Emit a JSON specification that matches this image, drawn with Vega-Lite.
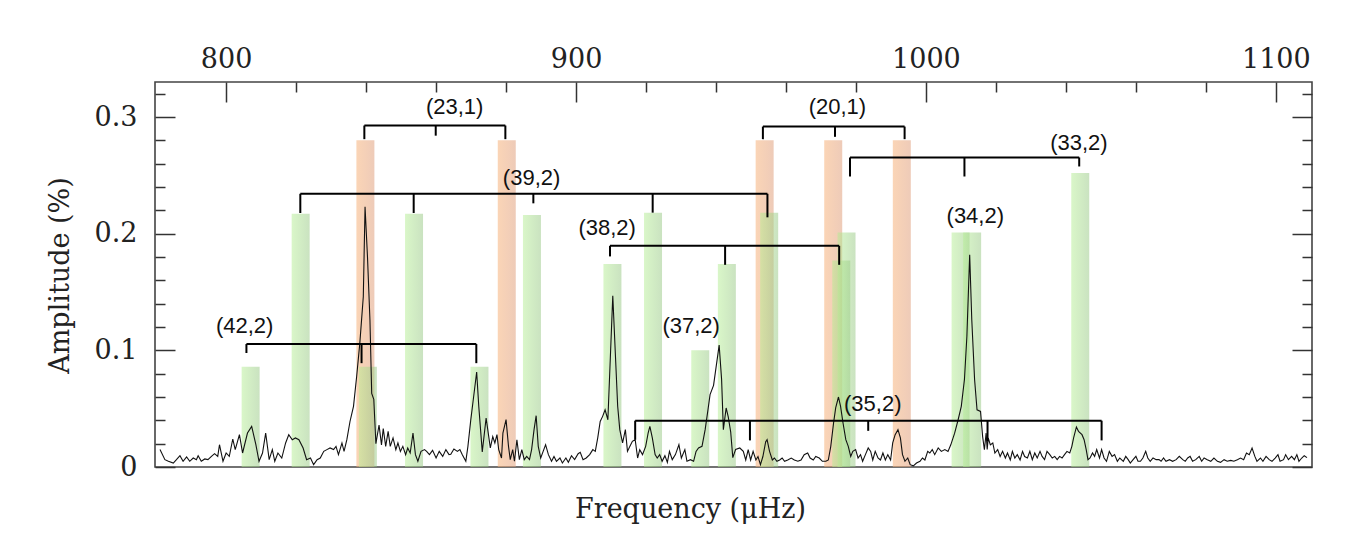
{
  "$schema": "https://vega.github.io/schema/vega-lite/v6.json",
  "width": 1157,
  "height": 385,
  "autosize": {"type": "none"},
  "padding": {"left": 155, "top": 82, "right": 53, "bottom": 76},
  "background": "white",
  "config": {"view": {"stroke": "#444444", "strokeWidth": 1.6}},
  "datasets": {
    "l1": [
      {"f": 839.8, "a": 0.28}, {"f": 880.2, "a": 0.28}, {"f": 953.9, "a": 0.28}, {"f": 973.5, "a": 0.28}, {"f": 993.1, "a": 0.28}
    ],
    "l2": [
      {"f": 807.0, "a": 0.086}, {"f": 821.3, "a": 0.217}, {"f": 840.5, "a": 0.086}, {"f": 853.7, "a": 0.217},
      {"f": 872.4, "a": 0.086}, {"f": 887.4, "a": 0.216}, {"f": 910.4, "a": 0.174}, {"f": 922.0, "a": 0.218},
      {"f": 935.5, "a": 0.1}, {"f": 943.1, "a": 0.174}, {"f": 955.2, "a": 0.218}, {"f": 975.8, "a": 0.177},
      {"f": 977.3, "a": 0.201}, {"f": 1009.9, "a": 0.201}, {"f": 1013.2, "a": 0.201}, {"f": 1044.1, "a": 0.252}
    ],
    "spec": [
      {"f":781.1,"a":0.015},{"f":782.5,"a":0.0063},{"f":783.5,"a":0.0049},{"f":784.9,"a":0.0034},{"f":785.8,"a":0.0063},
      {"f":786.8,"a":0.0097},{"f":787.7,"a":0.0049},{"f":788.7,"a":0.0086},{"f":789.6,"a":0.0049},{"f":790.6,"a":0.0077},
      {"f":791.5,"a":0.0063},{"f":792.0,"a":0.0097},{"f":792.9,"a":0.0049},{"f":793.9,"a":0.0069},{"f":794.8,"a":0.0063},
      {"f":795.8,"a":0.0091},{"f":796.7,"a":0.0114},{"f":797.6,"a":0.0091},{"f":798.1,"a":0.0191},{"f":799.1,"a":0.0049},
      {"f":800.0,"a":0.012},{"f":800.9,"a":0.0091},{"f":801.9,"a":0.024},{"f":802.6,"a":0.0149},{"f":803.8,"a":0.0277},
      {"f":804.7,"a":0.012},{"f":806.1,"a":0.0291},{"f":807.3,"a":0.0348},{"f":808.5,"a":0.0191},{"f":809.4,"a":0.0049},
      {"f":810.4,"a":0.012},{"f":811.3,"a":0.0291},{"f":812.3,"a":0.0063},{"f":813.2,"a":0.0149},{"f":813.9,"a":0.0049},
      {"f":814.8,"a":0.012},{"f":815.9,"a":0.0077},{"f":817.0,"a":0.0206},{"f":817.9,"a":0.0277},{"f":818.9,"a":0.0234},
      {"f":819.8,"a":0.0249},{"f":820.8,"a":0.0234},{"f":822.0,"a":0.0163},{"f":823.0,"a":0.0063},{"f":824.1,"a":0.0077},
      {"f":825.0,"a":0.002},{"f":826.0,"a":0.0063},{"f":826.9,"a":0.0077},{"f":827.9,"a":0.0134},{"f":828.8,"a":0.0149},
      {"f":829.7,"a":0.0163},{"f":830.7,"a":0.0149},{"f":831.4,"a":0.0177},{"f":832.1,"a":0.0106},{"f":833.1,"a":0.0206},
      {"f":833.7,"a":0.0134},{"f":834.5,"a":0.0234},{"f":835.4,"a":0.039},{"f":836.4,"a":0.052},{"f":837.3,"a":0.0776},
      {"f":838.2,"a":0.106},{"f":839.2,"a":0.146},{"f":839.7,"a":0.223},{"f":840.4,"a":0.18},{"f":841.1,"a":0.126},
      {"f":841.6,"a":0.063},{"f":842.2,"a":0.058},{"f":842.8,"a":0.02},{"f":843.7,"a":0.036},{"f":844.4,"a":0.019},
      {"f":844.9,"a":0.033},{"f":845.6,"a":0.0177},{"f":846.3,"a":0.0306},{"f":846.9,"a":0.0177},{"f":847.7,"a":0.0249},
      {"f":848.5,"a":0.0149},{"f":849.1,"a":0.0206},{"f":849.8,"a":0.0134},{"f":850.5,"a":0.0177},{"f":851.3,"a":0.0106},
      {"f":851.9,"a":0.0163},{"f":852.6,"a":0.012},{"f":853.4,"a":0.029},{"f":854.1,"a":0.0106},{"f":854.8,"a":0.0049},
      {"f":855.7,"a":0.0134},{"f":856.7,"a":0.0149},{"f":857.3,"a":0.0134},{"f":858.1,"a":0.0106},{"f":859.0,"a":0.0143},
      {"f":860.0,"a":0.0077},{"f":860.9,"a":0.0134},{"f":861.9,"a":0.0091},{"f":862.8,"a":0.0149},{"f":863.7,"a":0.0106},
      {"f":864.2,"a":0.011},{"f":865.1,"a":0.0154},{"f":866.1,"a":0.0134},{"f":866.8,"a":0.0149},{"f":867.5,"a":0.0106},
      {"f":868.5,"a":0.0049},{"f":869.1,"a":0.0177},{"f":869.9,"a":0.04},{"f":870.6,"a":0.057},{"f":871.6,"a":0.0814},
      {"f":872.2,"a":0.052},{"f":873.2,"a":0.013},{"f":874.3,"a":0.042},{"f":875.1,"a":0.0249},{"f":875.5,"a":0.0163},
      {"f":876.2,"a":0.026},{"f":876.8,"a":0.0206},{"f":877.4,"a":0.0277},{"f":877.9,"a":0.0149},{"f":878.7,"a":0.0077},
      {"f":879.1,"a":0.029},{"f":880.0,"a":0.0406},{"f":880.7,"a":0.0177},{"f":881.2,"a":0.0063},{"f":881.9,"a":0.0149},
      {"f":882.4,"a":0.0049},{"f":883.1,"a":0.0234},{"f":883.8,"a":0.0063},{"f":884.5,"a":0.0149},{"f":885.2,"a":0.0063},
      {"f":885.9,"a":0.0091},{"f":886.7,"a":0.0063},{"f":887.3,"a":0.0149},{"f":888.0,"a":0.032},{"f":888.6,"a":0.044},
      {"f":889.2,"a":0.0177},{"f":889.9,"a":0.0077},{"f":890.6,"a":0.0134},{"f":891.3,"a":0.0191},{"f":892.1,"a":0.0106},
      {"f":893.0,"a":0.0049},{"f":893.7,"a":0.0091},{"f":894.4,"a":0.0049},{"f":895.4,"a":0.0077},{"f":896.1,"a":0.0034},
      {"f":897.1,"a":0.0077},{"f":897.8,"a":0.004},{"f":898.7,"a":0.0097},{"f":899.6,"a":0.0063},{"f":900.6,"a":0.0114},
      {"f":901.2,"a":0.0126},{"f":902.0,"a":0.0063},{"f":902.9,"a":0.0077},{"f":903.9,"a":0.0106},{"f":904.8,"a":0.0149},
      {"f":905.5,"a":0.0134},{"f":906.2,"a":0.0249},{"f":906.9,"a":0.039},{"f":907.6,"a":0.0434},{"f":908.3,"a":0.049},
      {"f":909.1,"a":0.0405},{"f":910.5,"a":0.1468},{"f":911.9,"a":0.052},{"f":912.5,"a":0.032},{"f":913.3,"a":0.0206},
      {"f":914.1,"a":0.032},{"f":914.7,"a":0.0134},{"f":915.4,"a":0.0177},{"f":916.1,"a":0.022},{"f":916.9,"a":0.0234},
      {"f":917.6,"a":0.0077},{"f":918.2,"a":0.0149},{"f":919.0,"a":0.0106},{"f":919.9,"a":0.0177},{"f":920.6,"a":0.029},
      {"f":921.1,"a":0.0348},{"f":921.8,"a":0.0249},{"f":922.6,"a":0.0106},{"f":923.2,"a":0.0077},{"f":923.9,"a":0.0106},
      {"f":924.6,"a":0.0049},{"f":925.4,"a":0.0097},{"f":926.1,"a":0.004},{"f":926.7,"a":0.0134},{"f":927.5,"a":0.0063},
      {"f":928.4,"a":0.0106},{"f":929.4,"a":0.0191},{"f":930.1,"a":0.0077},{"f":931.1,"a":0.0149},{"f":931.7,"a":0.0049},
      {"f":932.7,"a":0.0063},{"f":933.6,"a":0.0049},{"f":934.3,"a":0.0134},{"f":935.0,"a":0.0163},{"f":936.0,"a":0.0177},
      {"f":936.9,"a":0.032},{"f":937.7,"a":0.049},{"f":938.3,"a":0.062},{"f":939.3,"a":0.07},{"f":940.9,"a":0.1045},
      {"f":941.6,"a":0.075},{"f":942.1,"a":0.032},{"f":942.9,"a":0.0506},{"f":943.5,"a":0.043},{"f":944.2,"a":0.03},
      {"f":944.8,"a":0.008},{"f":945.6,"a":0.015},{"f":946.8,"a":0.0163},{"f":947.8,"a":0.0134},{"f":948.5,"a":0.006},
      {"f":949.2,"a":0.0149},{"f":949.9,"a":0.006},{"f":950.6,"a":0.0134},{"f":951.4,"a":0.006},{"f":952.0,"a":0.009},
      {"f":952.7,"a":0.002},{"f":953.4,"a":0.009},{"f":954.2,"a":0.0217},{"f":954.6,"a":0.0234},{"f":955.3,"a":0.0134},
      {"f":956.1,"a":0.006},{"f":956.7,"a":0.0077},{"f":957.4,"a":0.0049},{"f":958.2,"a":0.006},{"f":958.9,"a":0.0077},
      {"f":959.6,"a":0.0049},{"f":960.5,"a":0.006},{"f":961.5,"a":0.0077},{"f":962.4,"a":0.006},{"f":963.4,"a":0.0049},
      {"f":964.3,"a":0.006},{"f":965.2,"a":0.0106},{"f":966.2,"a":0.012},{"f":966.9,"a":0.0077},{"f":967.8,"a":0.006},
      {"f":968.5,"a":0.009},{"f":969.5,"a":0.0077},{"f":970.4,"a":0.0049},{"f":971.4,"a":0.0049},{"f":972.1,"a":0.006},
      {"f":972.8,"a":0.0177},{"f":973.6,"a":0.0377},{"f":974.2,"a":0.0506},{"f":975.0,"a":0.06},{"f":975.6,"a":0.052},
      {"f":976.3,"a":0.0377},{"f":977.1,"a":0.0234},{"f":977.8,"a":0.0177},{"f":978.5,"a":0.009},{"f":979.1,"a":0.0134},
      {"f":979.9,"a":0.0149},{"f":980.6,"a":0.0077},{"f":981.3,"a":0.0106},{"f":981.9,"a":0.0049},{"f":982.7,"a":0.0106},
      {"f":983.5,"a":0.0163},{"f":984.2,"a":0.0134},{"f":984.8,"a":0.006},{"f":985.5,"a":0.0134},{"f":986.3,"a":0.0077},
      {"f":987.0,"a":0.006},{"f":987.7,"a":0.012},{"f":988.4,"a":0.006},{"f":989.1,"a":0.0106},{"f":989.9,"a":0.006},
      {"f":990.5,"a":0.0206},{"f":991.2,"a":0.0277},{"f":992.0,"a":0.032},{"f":992.7,"a":0.0249},{"f":993.3,"a":0.0106},
      {"f":994.0,"a":0.0049},{"f":994.8,"a":0.0077},{"f":995.5,"a":0.002},{"f":996.4,"a":0.001},{"f":997.3,"a":0.0034},
      {"f":998.3,"a":0.0049},{"f":999.0,"a":0.0077},{"f":999.7,"a":0.006},{"f":1000.5,"a":0.0134},{"f":1001.1,"a":0.012},
      {"f":1001.8,"a":0.0149},{"f":1002.5,"a":0.0106},{"f":1003.5,"a":0.0163},{"f":1004.4,"a":0.0134},{"f":1005.4,"a":0.0149},
      {"f":1006.3,"a":0.0134},{"f":1007.1,"a":0.019},{"f":1008.2,"a":0.029},{"f":1009.2,"a":0.0405},{"f":1010.1,"a":0.052},
      {"f":1011.0,"a":0.075},{"f":1011.7,"a":0.112},{"f":1012.5,"a":0.182},{"f":1013.1,"a":0.126},{"f":1013.9,"a":0.075},
      {"f":1014.6,"a":0.049},{"f":1015.6,"a":0.0476},{"f":1016.2,"a":0.026},{"f":1016.7,"a":0.0148},{"f":1017.2,"a":0.029},
      {"f":1017.5,"a":0.015},{"f":1017.8,"a":0.0249},{"f":1018.4,"a":0.019},{"f":1019.1,"a":0.0206},{"f":1019.7,"a":0.012},
      {"f":1020.5,"a":0.0149},{"f":1021.2,"a":0.009},{"f":1021.9,"a":0.0134},{"f":1022.7,"a":0.0077},{"f":1023.3,"a":0.012},
      {"f":1024.1,"a":0.006},{"f":1024.7,"a":0.0134},{"f":1025.4,"a":0.0077},{"f":1026.1,"a":0.0106},{"f":1026.9,"a":0.006},
      {"f":1027.6,"a":0.0134},{"f":1028.2,"a":0.009},{"f":1029.0,"a":0.0077},{"f":1029.7,"a":0.0134},{"f":1030.4,"a":0.0063},
      {"f":1031.1,"a":0.012},{"f":1031.8,"a":0.0077},{"f":1032.6,"a":0.0134},{"f":1033.2,"a":0.0091},{"f":1033.9,"a":0.0063},
      {"f":1034.6,"a":0.0134},{"f":1035.4,"a":0.0106},{"f":1036.1,"a":0.0077},{"f":1036.8,"a":0.0091},{"f":1037.5,"a":0.0063},
      {"f":1038.2,"a":0.0091},{"f":1038.9,"a":0.0077},{"f":1039.6,"a":0.0106},{"f":1040.3,"a":0.0134},{"f":1041.1,"a":0.012},
      {"f":1041.7,"a":0.0177},{"f":1042.2,"a":0.0249},{"f":1043.0,"a":0.0343},{"f":1043.6,"a":0.0306},{"f":1044.6,"a":0.0277},
      {"f":1045.2,"a":0.0234},{"f":1045.8,"a":0.0149},{"f":1046.3,"a":0.0063},{"f":1046.9,"a":0.0077},{"f":1047.6,"a":0.012},
      {"f":1048.2,"a":0.0091},{"f":1048.8,"a":0.0149},{"f":1049.6,"a":0.0077},{"f":1050.2,"a":0.0149},{"f":1050.9,"a":0.0077},
      {"f":1051.6,"a":0.0049},{"f":1052.4,"a":0.0134},{"f":1053.2,"a":0.0091},{"f":1053.9,"a":0.0106},{"f":1054.7,"a":0.0049},
      {"f":1055.4,"a":0.0077},{"f":1056.4,"a":0.0049},{"f":1057.1,"a":0.0091},{"f":1057.8,"a":0.0063},{"f":1058.4,"a":0.0034},
      {"f":1059.2,"a":0.0063},{"f":1060.0,"a":0.0091},{"f":1060.6,"a":0.0049},{"f":1061.3,"a":0.0049},{"f":1062.0,"a":0.0077},
      {"f":1062.8,"a":0.0134},{"f":1063.4,"a":0.0077},{"f":1064.1,"a":0.0049},{"f":1064.9,"a":0.0077},{"f":1065.8,"a":0.0063},
      {"f":1066.6,"a":0.0063},{"f":1067.2,"a":0.0049},{"f":1067.9,"a":0.0077},{"f":1068.6,"a":0.0049},{"f":1069.6,"a":0.0063},
      {"f":1070.5,"a":0.0049},{"f":1071.5,"a":0.0063},{"f":1072.4,"a":0.0091},{"f":1073.4,"a":0.0063},{"f":1074.1,"a":0.0049},
      {"f":1074.8,"a":0.0077},{"f":1075.5,"a":0.0091},{"f":1076.2,"a":0.0049},{"f":1077.1,"a":0.0063},{"f":1078.1,"a":0.0091},
      {"f":1078.8,"a":0.0049},{"f":1079.5,"a":0.0077},{"f":1080.4,"a":0.0063},{"f":1081.4,"a":0.0049},{"f":1082.3,"a":0.0077},
      {"f":1083.3,"a":0.0049},{"f":1084.2,"a":0.004},{"f":1085.2,"a":0.0063},{"f":1086.1,"a":0.0049},{"f":1087.1,"a":0.0057},
      {"f":1088.0,"a":0.0049},{"f":1089.0,"a":0.0063},{"f":1089.9,"a":0.0077},{"f":1090.8,"a":0.0063},{"f":1091.6,"a":0.012},
      {"f":1092.4,"a":0.0106},{"f":1093.2,"a":0.0163},{"f":1094.0,"a":0.0091},{"f":1094.6,"a":0.0049},{"f":1095.6,"a":0.0077},
      {"f":1096.3,"a":0.0049},{"f":1097.2,"a":0.0091},{"f":1098.1,"a":0.0063},{"f":1098.9,"a":0.0049},{"f":1099.8,"a":0.0077},
      {"f":1100.6,"a":0.0106},{"f":1101.2,"a":0.0049},{"f":1102.2,"a":0.0063},{"f":1102.8,"a":0.0106},{"f":1103.6,"a":0.0063},
      {"f":1104.5,"a":0.0091},{"f":1105.3,"a":0.0063},{"f":1106.0,"a":0.0106},{"f":1106.6,"a":0.0049},{"f":1107.4,"a":0.0077},
      {"f":1108.1,"a":0.0097},{"f":1108.9,"a":0.008}
    ],
    "brackets": [
      {"x1": 839.5, "x2": 879.8, "y1": 0.2927, "y2": 0.2927},
      {"x1": 839.5, "x2": 839.5, "y1": 0.2927, "y2": 0.281},
      {"x1": 879.8, "x2": 879.8, "y1": 0.2927, "y2": 0.281},
      {"x1": 859.9, "x2": 859.9, "y1": 0.2927, "y2": 0.284},
      {"x1": 953.4, "x2": 993.9, "y1": 0.2918, "y2": 0.2918},
      {"x1": 953.4, "x2": 953.4, "y1": 0.2918, "y2": 0.281},
      {"x1": 993.9, "x2": 993.9, "y1": 0.2918, "y2": 0.281},
      {"x1": 974.0, "x2": 974.0, "y1": 0.2918, "y2": 0.283},
      {"x1": 978.3, "x2": 1043.8, "y1": 0.2653, "y2": 0.2653},
      {"x1": 978.3, "x2": 978.3, "y1": 0.2653, "y2": 0.249},
      {"x1": 1011.0, "x2": 1011.0, "y1": 0.2653, "y2": 0.249},
      {"x1": 1043.8, "x2": 1043.8, "y1": 0.2653, "y2": 0.2576},
      {"x1": 821.2, "x2": 954.7, "y1": 0.2342, "y2": 0.2342},
      {"x1": 821.2, "x2": 821.2, "y1": 0.2342, "y2": 0.2177},
      {"x1": 853.6, "x2": 853.6, "y1": 0.2342, "y2": 0.2177},
      {"x1": 887.8, "x2": 887.8, "y1": 0.2342, "y2": 0.226},
      {"x1": 921.9, "x2": 921.9, "y1": 0.2342, "y2": 0.218},
      {"x1": 954.7, "x2": 954.7, "y1": 0.2342, "y2": 0.214},
      {"x1": 909.7, "x2": 975.2, "y1": 0.1896, "y2": 0.1896},
      {"x1": 909.7, "x2": 909.7, "y1": 0.1896, "y2": 0.1805},
      {"x1": 942.6, "x2": 942.6, "y1": 0.1896, "y2": 0.1733},
      {"x1": 975.2, "x2": 975.2, "y1": 0.1896, "y2": 0.1733},
      {"x1": 805.8, "x2": 871.5, "y1": 0.1054, "y2": 0.1054},
      {"x1": 805.8, "x2": 805.8, "y1": 0.1054, "y2": 0.0977},
      {"x1": 838.7, "x2": 838.7, "y1": 0.1054, "y2": 0.089},
      {"x1": 871.5, "x2": 871.5, "y1": 0.1054, "y2": 0.089},
      {"x1": 916.9, "x2": 1050.2, "y1": 0.0397, "y2": 0.0397},
      {"x1": 916.9, "x2": 916.9, "y1": 0.0397, "y2": 0.0234},
      {"x1": 949.7, "x2": 949.7, "y1": 0.0397, "y2": 0.0228},
      {"x1": 983.5, "x2": 983.5, "y1": 0.0397, "y2": 0.031},
      {"x1": 1017.6, "x2": 1017.6, "y1": 0.0397, "y2": 0.022},
      {"x1": 1050.2, "x2": 1050.2, "y1": 0.0397, "y2": 0.0228}
    ],
    "labels": [
      {"f": 865.3, "a": 0.309, "t": "(23,1)"},
      {"f": 974.7, "a": 0.309, "t": "(20,1)"},
      {"f": 887.3, "a": 0.2477, "t": "(39,2)"},
      {"f": 908.9, "a": 0.205, "t": "(38,2)"},
      {"f": 1043.7, "a": 0.2776, "t": "(33,2)"},
      {"f": 1014.1, "a": 0.2148, "t": "(34,2)"},
      {"f": 805.3, "a": 0.121, "t": "(42,2)"},
      {"f": 932.9, "a": 0.1205, "t": "(37,2)"},
      {"f": 984.8, "a": 0.054, "t": "(35,2)"}
    ]
  },
  "layer": [
    {
      "data": {"name": "l1"},
      "mark": {
        "type": "bar", "size": 18, "fillOpacity": 0.55,
        "fill": {"gradient": "linear", "x1": 0, "x2": 1, "y1": 0, "y2": 0,
          "stops": [{"offset": 0, "color": "#f7b27a"}, {"offset": 1, "color": "#e0a07e"}]}
      },
      "encoding": {
        "x": {"field": "f", "type": "quantitative",
          "scale": {"domain": [781.1, 1108.9], "nice": false, "zero": false},
          "axis": {"orient": "bottom", "title": "Frequency (μHz)", "labels": false, "ticks": false, "domain": false, "grid": false,
            "titleFont": "DejaVu Serif", "titleFontSize": 27, "titleFontWeight": "normal", "titleColor": "#222222",
            "titlePadding": 29, "titleX": 535, "titleAlign": "center"}},
        "y": {"field": "a", "type": "quantitative",
          "scale": {"domain": [0, 0.33], "nice": false, "zero": false},
          "axis": {"orient": "left", "title": "Amplitude (%)", "grid": false, "domain": false,
            "values": [0, 0.02, 0.04, 0.06, 0.08, 0.1, 0.12, 0.14, 0.16, 0.18, 0.2, 0.22, 0.24, 0.26, 0.28, 0.3, 0.32],
            "tickSize": {"condition": {"test": "abs(datum.value*10 - round(datum.value*10)) < 1e-6", "value": -20}, "value": -10},
            "tickColor": "#333333", "tickWidth": 1.5,
            "labelExpr": "abs(datum.value*10 - round(datum.value*10)) < 1e-6 ? (datum.value == 0 ? '0' : format(datum.value, '.1f')) : ''",
            "labelFont": "DejaVu Serif", "labelFontSize": 27, "labelColor": "#222222", "labelPadding": 38,
            "titleFont": "DejaVu Serif", "titleFontSize": 27, "titleFontWeight": "normal", "titleColor": "#222222",
            "titleX": -95, "titleY": 193, "titleBaseline": "middle", "titleAlign": "center", "titleAngle": 270}}
      }
    },
    {
      "data": {"name": "l2"},
      "mark": {
        "type": "bar", "size": 18, "fillOpacity": 0.5,
        "fill": {"gradient": "linear", "x1": 0, "x2": 1, "y1": 0, "y2": 0,
          "stops": [{"offset": 0, "color": "#b4ee92"}, {"offset": 1, "color": "#95c682"}]}
      },
      "encoding": {
        "x": {"field": "f", "type": "quantitative", "scale": {"domain": [781.1, 1108.9], "nice": false, "zero": false}, "axis": null},
        "y": {"field": "a", "type": "quantitative", "scale": {"domain": [0, 0.33], "nice": false, "zero": false}, "axis": null}
      }
    },
    {
      "data": {"name": "spec"},
      "mark": {"type": "line", "color": "#111111", "strokeWidth": 1.1},
      "encoding": {
        "x": {"field": "f", "type": "quantitative",
          "scale": {"domain": [781.1, 1108.9], "nice": false, "zero": false},
          "axis": {"orient": "top", "title": null, "grid": false, "domain": false,
            "values": [800, 820, 840, 860, 880, 900, 920, 940, 960, 980, 1000, 1020, 1040, 1060, 1080, 1100],
            "tickSize": {"condition": {"test": "datum.value % 100 === 0", "value": -20}, "value": -10},
            "tickColor": "#333333", "tickWidth": 1.5,
            "labelExpr": "datum.value % 100 === 0 ? format(datum.value, 'd') : ''",
            "labelFont": "DejaVu Serif", "labelFontSize": 27, "labelColor": "#222222", "labelPadding": 29}},
        "y": {"field": "a", "type": "quantitative",
          "scale": {"domain": [0, 0.33], "nice": false, "zero": false},
          "axis": {"orient": "right", "title": null, "grid": false, "domain": false, "labels": false,
            "values": [0, 0.02, 0.04, 0.06, 0.08, 0.1, 0.12, 0.14, 0.16, 0.18, 0.2, 0.22, 0.24, 0.26, 0.28, 0.3, 0.32],
            "tickSize": {"condition": {"test": "abs(datum.value*10 - round(datum.value*10)) < 1e-6", "value": -20}, "value": -10},
            "tickColor": "#333333", "tickWidth": 1.5}}
      }
    },
    {
      "data": {"name": "brackets"},
      "mark": {"type": "rule", "color": "#000000", "strokeWidth": 2},
      "encoding": {
        "x": {"field": "x1", "type": "quantitative", "scale": {"domain": [781.1, 1108.9], "nice": false, "zero": false}, "axis": null},
        "x2": {"field": "x2"},
        "y": {"field": "y1", "type": "quantitative", "scale": {"domain": [0, 0.33], "nice": false, "zero": false}, "axis": null},
        "y2": {"field": "y2"}
      }
    },
    {
      "data": {"name": "labels"},
      "mark": {"type": "text", "font": "Liberation Sans", "fontSize": 22, "color": "#111111", "align": "center", "baseline": "middle"},
      "encoding": {
        "x": {"field": "f", "type": "quantitative", "scale": {"domain": [781.1, 1108.9], "nice": false, "zero": false}, "axis": null},
        "y": {"field": "a", "type": "quantitative", "scale": {"domain": [0, 0.33], "nice": false, "zero": false}, "axis": null},
        "text": {"field": "t"}
      }
    }
  ],
  "resolve": {"axis": {"x": "independent", "y": "independent"}}
}
